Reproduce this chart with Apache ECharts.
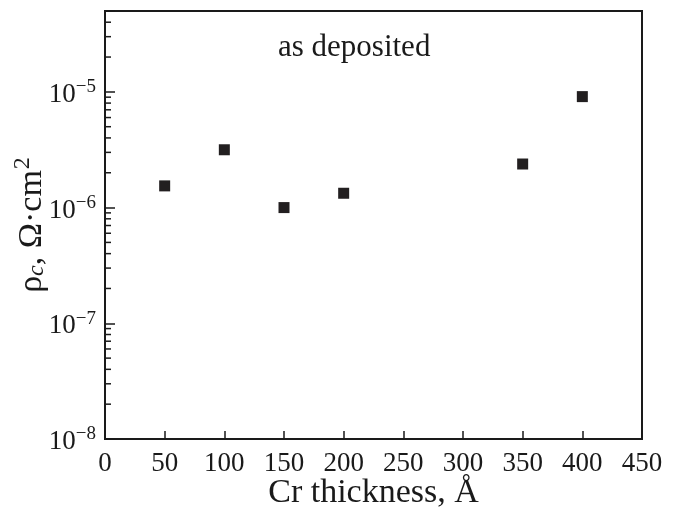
<!DOCTYPE html>
<html>
<head>
<meta charset="utf-8">
<script src="https://cdn.jsdelivr.net/npm/echarts@6/dist/echarts.min.js"></script>
<style>
html,body{margin:0;padding:0;background:#fff;}
#c{width:674px;height:510px;}
</style>
</head>
<body>
<div id="c"></div>
<script>
// Data
var thickness = [50, 100, 150, 200, 350, 400];            // Cr thickness, Å
var rhoC = [1.54e-6, 3.16e-6, 1.0e-6, 1.33e-6, 2.38e-6, 9.1e-6]; // ρc, Ω·cm²
var xTicks = [0, 50, 100, 150, 200, 250, 300, 350, 400, 450];
var yDecades = [1e-8, 1e-7, 1e-6, 1e-5];
var minorMultipliers = [2, 3, 4, 5, 6, 7, 8, 9];
var yMin = 1e-8, yMax = 5e-5;

var minorTicks = [];
yDecades.forEach(function (d) {
  minorMultipliers.forEach(function (m) {
    var v = m * d;
    if (v < yMax) minorTicks.push(v);
  });
});

var FONT = '"Liberation Serif","DejaVu Serif",serif';
var INK = '#1a1a1a';
var chart = echarts.init(document.getElementById('c'), null, {renderer: 'canvas'});

chart.setOption({
  animation: false,
  backgroundColor: '#fff',
  grid: {left: 105, right: 32, top: 11, bottom: 71, containLabel: false, outerBoundsMode: 'none',
         show: true, borderColor: INK, borderWidth: 2, backgroundColor: 'transparent'},
  graphic: [{
    type: 'text', left: 278, top: 32,
    style: {text: 'as deposited', font: '31px ' + FONT, fill: INK}
  }],
  xAxis: {
    type: 'value', min: xTicks[0], max: xTicks[xTicks.length - 1], interval: 50,
    name: 'Cr thickness, Å', nameLocation: 'middle', nameGap: 37, nameMoveOverlap: false,
    nameTextStyle: {fontFamily: FONT, fontSize: 34, color: INK},
    axisLine: {show: true, lineStyle: {color: INK, width: 2}},
    axisTick: {show: true, inside: true, length: 8, lineStyle: {color: INK, width: 1.5}},
    axisLabel: {fontFamily: FONT, fontSize: 27, color: INK, margin: 11},
    splitLine: {show: false}
  },
  yAxis: {
    type: 'log', logBase: 10, min: yMin, max: yMax,
    name: '{r|ρ}{i|c}{r|, Ω·cm}{s|2}', nameLocation: 'middle', nameGap: 52, nameRotate: 90, nameMoveOverlap: false,
    nameTextStyle: {
      fontFamily: FONT, fontSize: 34, color: INK,
      rich: {
        r: {fontFamily: FONT, fontSize: 34, color: INK},
        i: {fontFamily: FONT, fontSize: 24, fontStyle: 'italic', color: INK, padding: [10, 0, 0, 0]},
        s: {fontFamily: FONT, fontSize: 24, color: INK, padding: [0, 0, 18, 1]}
      }
    },
    axisLine: {show: true, lineStyle: {color: INK, width: 2}},
    axisTick: {show: true, inside: true, length: 10, lineStyle: {color: INK, width: 1.5}},
    minorTick: {show: false},
    splitLine: {show: false},
    axisLabel: {
      margin: 9,
      formatter: function (v) {
        var l = Math.log10(v), e = Math.round(l);
        if (Math.abs(l - e) > 1e-6) return '';
        return '{b|10}{s|\u2212' + (-e) + '}';
      },
      rich: {
        b: {fontFamily: FONT, fontSize: 27, color: INK, padding: [6, 0, 0, 0]},
        s: {fontFamily: FONT, fontSize: 19, color: INK, padding: [0, 0, 9, 0]}
      }
    }
  },
  series: [
    {
      type: 'scatter', symbol: 'rect', symbolSize: 11,
      itemStyle: {color: '#221f20', opacity: 1},
      data: thickness.map(function (x, i) { return [x, rhoC[i]]; }),
      z: 3
    },
    {
      type: 'custom', silent: true, clip: false,
      data: minorTicks.map(function (v) { return [xTicks[0], v]; }),
      renderItem: function (params, api) {
        var p = api.coord([api.value(0), api.value(1)]);
        return {
          type: 'line',
          shape: {x1: p[0], y1: p[1], x2: p[0] + 6, y2: p[1]},
          style: {stroke: INK, lineWidth: 1.5}
        };
      },
      z: 2
    }
  ]
});
</script>
</body>
</html>
